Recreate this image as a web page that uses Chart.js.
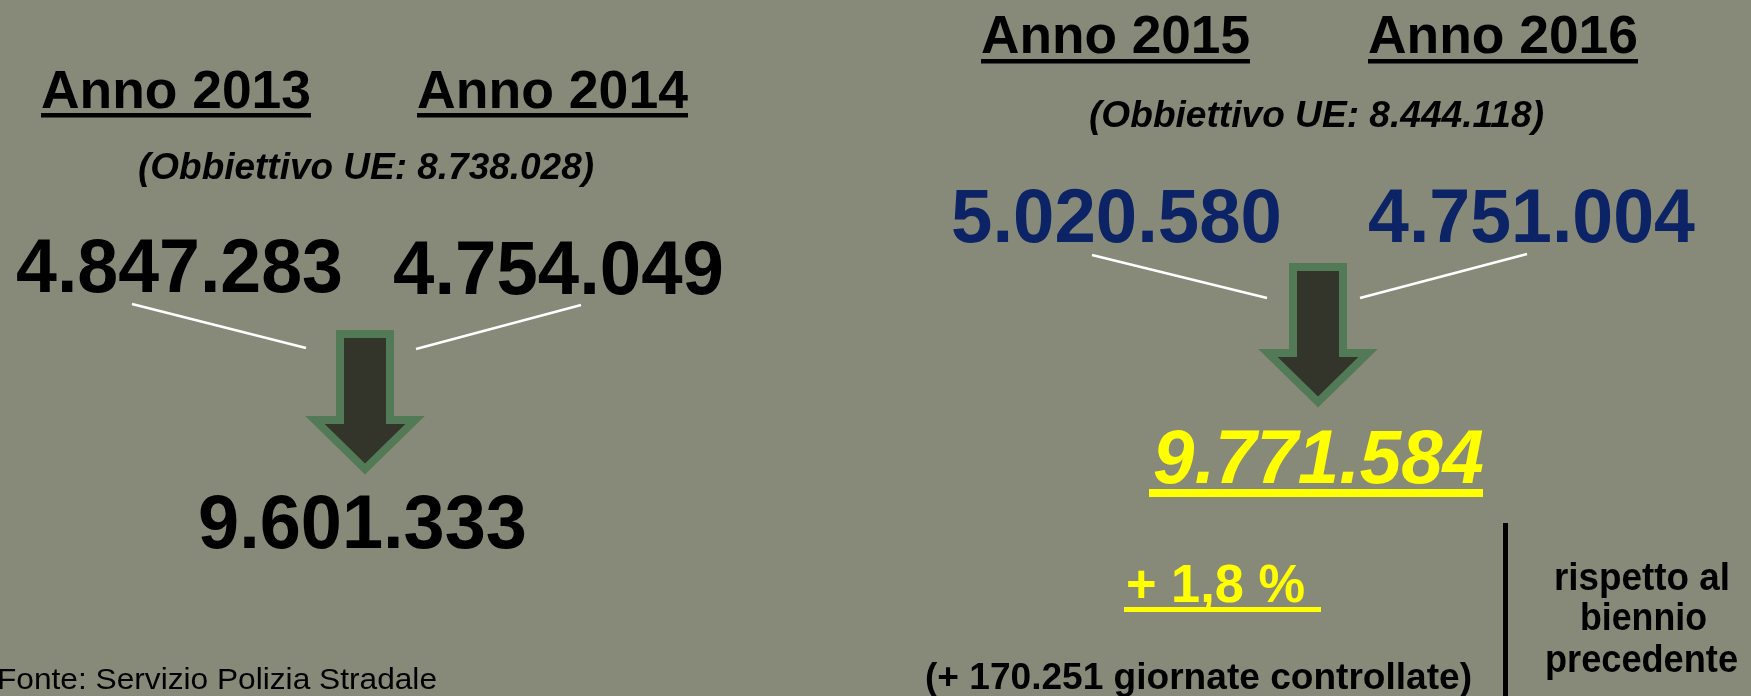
<!DOCTYPE html>
<html>
<head>
<meta charset="utf-8">
<script src="https://cdn.jsdelivr.net/npm/chart.js@4"></script>
<style>
  html, body { margin: 0; padding: 0; background: #878a79; }
  #wrap { width: 1751px; height: 696px; position: relative; }
</style>
</head>
<body>
<div id="wrap"><canvas id="chart"></canvas></div>
<script>
// dati: giornate controllate per anno
const years = ['Anno 2013', 'Anno 2014', 'Anno 2015', 'Anno 2016'];
const controlled = [4847283, 4754049, 5020580, 4751004];
// bienni
const bienniumTotals = [9601333, 9771584];
const euTargets = [8738028, 8444118];
const changePct = 1.8;
const changeDays = 170251;
const note = ['rispetto al', 'biennio', 'precedente'];
const source = 'Fonte: Servizio Polizia Stradale';

const FONT = '"Liberation Sans", Arial, sans-serif';

function fmt(n) {
    return String(n).replace(/\B(?=(\d{3})+(?!\d))/g, '.');
}

// testo scalato in orizzontale per avere la larghezza voluta
function put(ctx, str, x, y, font, color, w, align) {
    ctx.save();
    ctx.font = font;
    const m = ctx.measureText(str).width;
    ctx.translate(x, y);
    if (w) ctx.scale(w / m, 1);
    ctx.textAlign = align || 'center';
    ctx.textBaseline = 'alphabetic';
    ctx.fillStyle = color;
    ctx.fillText(str, 0, 0);
    ctx.restore();
}

function arrow(ctx, cx, top, shoulder, tip) {
    ctx.save();
    ctx.beginPath();
    ctx.moveTo(cx - 25, top);
    ctx.lineTo(cx + 25, top);
    ctx.lineTo(cx + 25, shoulder);
    ctx.lineTo(cx + 50, shoulder);
    ctx.lineTo(cx, tip);
    ctx.lineTo(cx - 50, shoulder);
    ctx.lineTo(cx - 25, shoulder);
    ctx.closePath();
    ctx.fillStyle = '#33342a';
    ctx.fill();
    ctx.lineWidth = 8;
    ctx.lineJoin = 'miter';
    ctx.strokeStyle = '#527a56';
    ctx.stroke();
    ctx.restore();
}

function line(ctx, x1, y1, x2, y2) {
    ctx.save();
    ctx.beginPath();
    ctx.moveTo(x1, y1);
    ctx.lineTo(x2, y2);
    ctx.lineWidth = 2.5;
    ctx.strokeStyle = '#ffffff';
    ctx.stroke();
    ctx.restore();
}

const infographic = {
    id: 'infographic',
    beforeDraw(chart) {
        const ctx = chart.ctx;
        ctx.save();
        ctx.fillStyle = '#878a79';
        ctx.fillRect(0, 0, chart.width, chart.height);
        ctx.restore();
    },
    afterDraw(chart) {
        const ctx = chart.ctx;
        const labels = chart.data.labels;
        const vals = chart.data.datasets[0].data;
        const tot = chart.data.datasets[1].data;
        const big = 'bold 76px ' + FONT;
        const head = 'bold 53px ' + FONT;
        const sub = 'italic bold 37px ' + FONT;

        // --- biennio 2013-2014 ---
        put(ctx, labels[0], 176, 108, head, '#000', 270);
        ctx.fillRect(41, 113, 270, 4.5);
        put(ctx, labels[1], 552.5, 108, head, '#000', 271);
        ctx.fillRect(417, 113, 271, 4.5);
        put(ctx, '(Obbiettivo UE: ' + fmt(euTargets[0]) + ')', 366, 179, sub, '#000', 456);
        put(ctx, fmt(vals[0]), 179.5, 292, big, '#000', 327);
        put(ctx, fmt(vals[1]), 558.5, 294, big, '#000', 331);
        line(ctx, 132, 304, 306, 348);
        line(ctx, 416, 349, 581, 305);
        arrow(ctx, 365, 334, 420, 469);
        put(ctx, fmt(tot[0]), 362.5, 548, big, '#000', 329);

        // --- biennio 2015-2016 ---
        put(ctx, labels[2], 1115.5, 53, head, '#000', 269);
        ctx.fillRect(981, 59, 269, 4.5);
        put(ctx, labels[3], 1503, 53, head, '#000', 270);
        ctx.fillRect(1368, 59, 270, 4.5);
        put(ctx, '(Obbiettivo UE: ' + fmt(euTargets[1]) + ')', 1316.5, 127, sub, '#000', 455);
        put(ctx, fmt(vals[2]), 1116.5, 242, big, '#0c2466', 331);
        put(ctx, fmt(vals[3]), 1531.5, 242, big, '#0c2466', 327);
        line(ctx, 1092, 255, 1267, 298);
        line(ctx, 1360, 298, 1527, 254);
        arrow(ctx, 1318, 267, 353, 402);
        put(ctx, fmt(tot[1]), 1318.5, 483, 'italic ' + big, '#ffff00', 331);
        ctx.fillStyle = '#ffff00';
        ctx.fillRect(1149, 489, 334, 8);

        put(ctx, '+ ' + String(changePct).replace('.', ',') + ' %', 1126, 602, head, '#ffff00', 179, 'left');
        ctx.fillStyle = '#ffff00';
        ctx.fillRect(1124, 607, 197, 5);
        put(ctx, '(+ ' + fmt(changeDays) + ' giornate controllate)', 1198.5, 689, 'bold 37px ' + FONT, '#000', 547);

        ctx.fillStyle = '#000';
        ctx.fillRect(1503, 523, 5, 173);
        put(ctx, note[0], 1642, 590, 'bold 38px ' + FONT, '#000', 176);
        put(ctx, note[1], 1643.5, 630, 'bold 38px ' + FONT, '#000', 127);
        put(ctx, note[2], 1641.5, 672, 'bold 38px ' + FONT, '#000', 193);

        put(ctx, source, -3, 689, '30px ' + FONT, '#000', 440, 'left');
    }
};

new Chart(document.getElementById('chart'), {
    type: 'bar',
    data: {
        labels: years,
        datasets: [{
            label: 'Giornate controllate',
            data: controlled,
            backgroundColor: 'rgba(0,0,0,0)',
            hidden: true
        }, {
            label: 'Totale biennio',
            data: bienniumTotals,
            backgroundColor: 'rgba(0,0,0,0)',
            hidden: true
        }]
    },
    options: {
        responsive: true,
        maintainAspectRatio: false,
        animation: false,
        layout: { padding: 0 },
        scales: {
            x: { display: false },
            y: { display: false }
        },
        plugins: {
            legend: { display: false },
            tooltip: { enabled: false }
        }
    },
    plugins: [infographic]
});
</script>
</body>
</html>
